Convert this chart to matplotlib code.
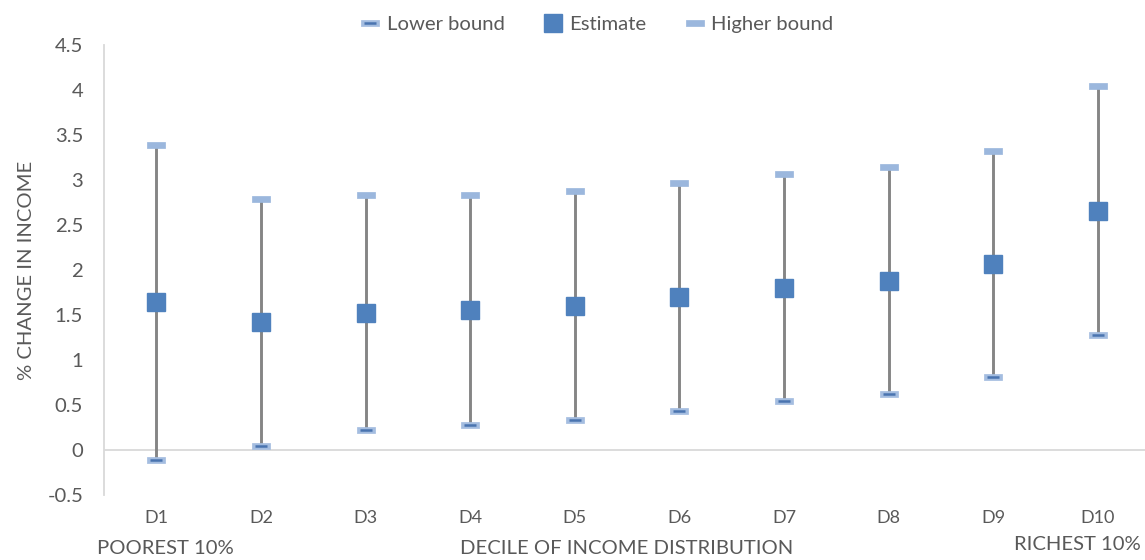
import matplotlib
matplotlib.use("Agg")
import matplotlib.pyplot as plt
import numpy as np

categories = ["D1", "D2", "D3", "D4", "D5", "D6", "D7", "D8", "D9", "D10"]
lower = [-0.11, 0.05, 0.22, 0.28, 0.33, 0.43, 0.54, 0.62, 0.81, 1.28]
estimate = [1.64, 1.42, 1.525, 1.555, 1.60, 1.70, 1.80, 1.88, 2.07, 2.66]
higher = [3.39, 2.79, 2.83, 2.83, 2.88, 2.97, 3.07, 3.14, 3.32, 4.04]
yticks = [-0.5, 0, 0.5, 1, 1.5, 2, 2.5, 3, 3.5, 4, 4.5]
ytick_labels = ["-0.5", "0", "0.5", "1", "1.5", "2", "2.5", "3", "3.5", "4", "4.5"]

plt.rcParams['font.family'] = ['Lato', 'DejaVu Sans']
txt = '#595959'
fs = 14.6

fig = plt.figure(figsize=(11.45, 5.6), dpi=100)
ax = fig.add_axes([104/1145, 65/560, 1 - 104/1145, 450/560])

x = np.arange(1, len(categories) + 1)

ax.vlines(x, lower, higher, color='#858585', lw=2.1, zorder=1)

dash = [(-1, -0.3), (1, -0.3), (1, 0.3), (-1, 0.3), (-1, -0.3)]
light = '#A4BDE0'
lo1, = ax.plot(x, lower, ls='none', marker=dash, ms=12.5, mfc=light, mec=light,
               mew=0.5, zorder=3)
lo2, = ax.plot(x, lower, ls='none', marker='_', ms=9, mew=1.8, mec='#4A74B0', zorder=4)
est, = ax.plot(x, estimate, ls='none', marker='s', ms=12.5, mfc='#4F81BD',
               mec='#4F81BD', zorder=3)
hi, = ax.plot(x, higher, ls='none', marker=dash, ms=12.5, mfc='#9BB7DD', mec='#9BB7DD',
              mew=0.5, zorder=3)

ax.set_xlim(0.5, 10.45)
ax.set_ylim(-0.5, 4.5)
ax.set_yticks(yticks)
ax.set_yticklabels(ytick_labels)
ax.set_xticks(x)
ax.set_xticklabels(categories)
ax.tick_params(axis='both', length=0, labelsize=fs, colors=txt)
ax.tick_params(axis='y', pad=15)
ax.tick_params(axis='x', pad=11)
for lab in ax.get_xticklabels():
    lab.set_fontsize(13)

for s in ['top', 'right', 'bottom']:
    ax.spines[s].set_visible(False)
ax.spines['left'].set_color('#D9D9D9')
ax.spines['left'].set_linewidth(1.3)
ax.axhline(0, color='#D9D9D9', lw=1.3, zorder=0)

ax.set_ylabel('% CHANGE IN INCOME', fontsize=fs, color=txt, labelpad=9)
fig.text(97/1145, 1 - 549/560, 'POOREST 10%', fontsize=fs, color=txt,
         ha='left', va='center')
fig.text(627/1145, 1 - 549/560, 'DECILE OF INCOME DISTRIBUTION', fontsize=fs,
         color=txt, ha='center', va='center')
fig.text(1141/1145, 1 - 544/560, 'RICHEST 10%', fontsize=fs, color=txt,
         ha='right', va='center')

leg = fig.legend([(lo1, lo2), est, hi], ['Lower bound', 'Estimate', 'Higher bound'],
                 loc='center', bbox_to_anchor=(598/1145, 1 - 24/560), ncol=3,
                 frameon=False, fontsize=fs, numpoints=1, handlelength=0.8,
                 handletextpad=0.4, columnspacing=2.0)
for t in leg.get_texts():
    t.set_color(txt)

fig.savefig('out.png', dpi=100)
